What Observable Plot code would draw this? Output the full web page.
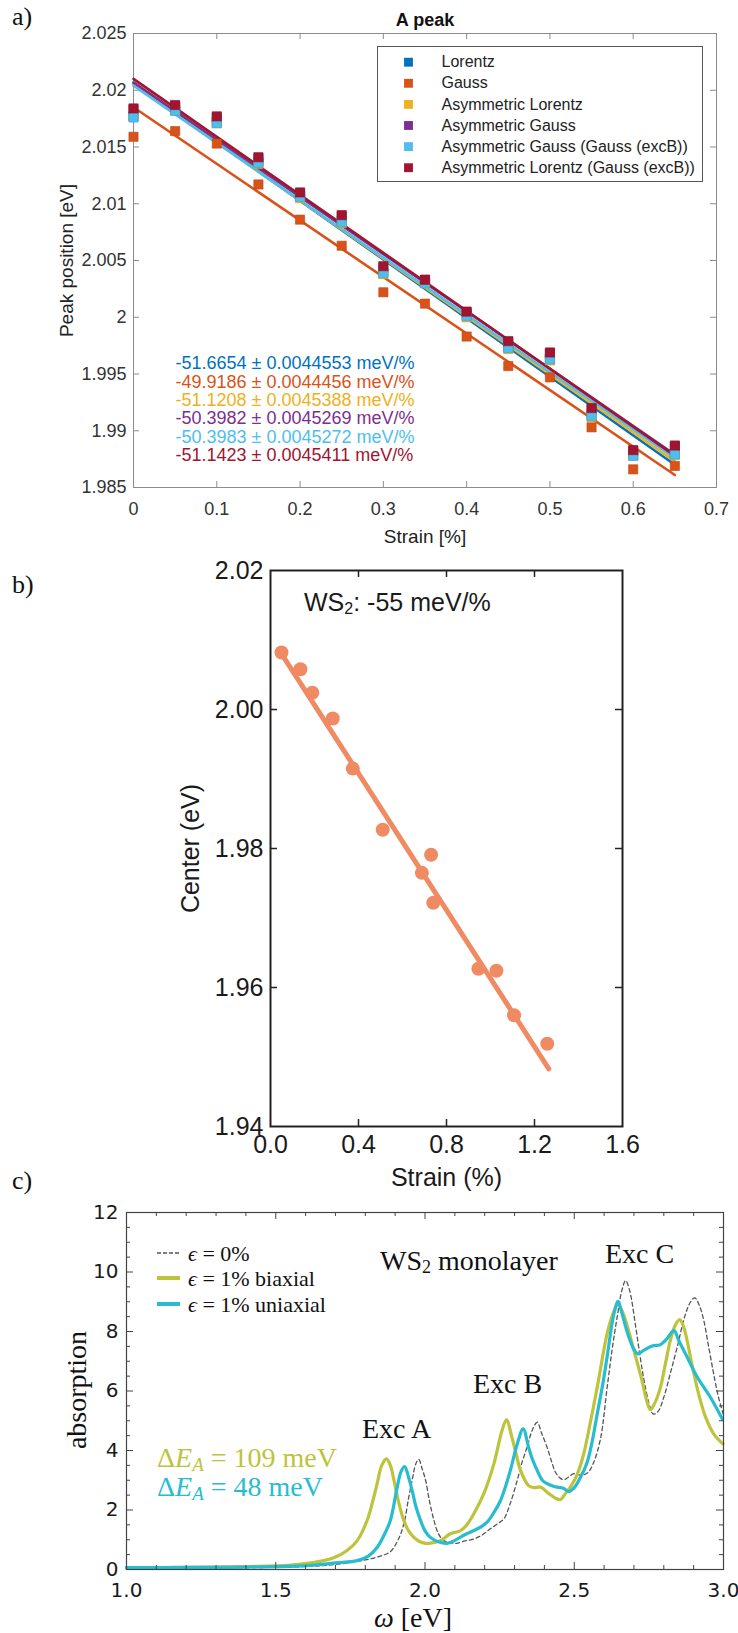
<!DOCTYPE html>
<html><head><meta charset="utf-8">
<script src="https://cdn.jsdelivr.net/npm/d3@7"></script>
<script src="https://cdn.jsdelivr.net/npm/@observablehq/plot@0.6"></script>
<style>
body{margin:0;background:#fff;}
#root{position:relative;width:738px;height:1633px;overflow:hidden;background:#fff;}
.plabel{position:absolute;left:12px;font-family:"Liberation Serif",serif;font-size:26px;line-height:30px;color:#111;}
</style></head><body><div id="root"></div>
<script>
// ================= DATA =================
// ---- panel a ----
const strainA = [0, 0.05, 0.1, 0.15, 0.2, 0.25, 0.3, 0.35, 0.4, 0.45, 0.5, 0.55, 0.6, 0.65];
const seriesNamesA = ["Lorentz", "Gauss", "Asymmetric Lorentz", "Asymmetric Gauss", "Asymmetric Gauss (Gauss (excB))", "Asymmetric Lorentz (Gauss (excB))"];
const seriesColorsA = ["#0072BD", "#D95319", "#EDB120", "#7E2F8E", "#4DBEEE", "#A2142F"];
const lorentzA   = [2.0177, 2.0183, 2.0172, 2.0137, 2.0107, 2.0085, 2.0040, 2.0031, 2.0002, 1.9974, 1.9963, 1.9914, 1.9879, 1.9880];
const gaussA     = [2.0159, 2.0164, 2.0153, 2.0117, 2.0086, 2.0063, 2.0022, 2.0012, 1.9983, 1.9957, 1.9947, 1.9903, 1.9866, 1.9869];
const asymLorA   = [2.0177, 2.0182, 2.0171, 2.0135, 2.0105, 2.0083, 2.0038, 2.0030, 2.0000, 1.9972, 1.9962, 1.9912, 1.9878, 1.9879];
const asymGauA   = [2.0183, 2.0186, 2.0176, 2.0140, 2.0109, 2.0089, 2.0044, 2.0033, 2.0004, 1.9978, 1.9968, 1.9919, 1.9882, 1.9886];
const asymGauBA  = [2.0176, 2.0182, 2.0171, 2.0136, 2.0106, 2.0084, 2.0039, 2.0030, 2.0001, 1.9973, 1.9963, 1.9913, 1.9878, 1.9879];
const asymLorBA  = [2.0184, 2.0187, 2.0177, 2.0141, 2.0110, 2.0090, 2.0045, 2.0033, 2.0005, 1.9979, 1.9969, 1.9920, 1.9883, 1.9887];
const valuesA = [lorentzA, gaussA, asymLorA, asymGauA, asymGauBA, asymLorBA];
const fitXA = [0, 0.65];
const fitStartA = [2.0206, 2.0185, 2.0205, 2.0207, 2.0204, 2.0210];
const fitEndA   = [1.9870, 1.9861, 1.9873, 1.9879, 1.9876, 1.9878];
const slopeLabelsA = ["-51.6654 ± 0.0044553 meV/%", "-49.9186 ± 0.0044456 meV/%", "-51.1208 ± 0.0045388 meV/%", "-50.3982 ± 0.0045269 meV/%", "-50.3983 ± 0.0045272 meV/%", "-51.1423 ± 0.0045411 meV/%"];
const xTicksA = [0, 0.1, 0.2, 0.3, 0.4, 0.5, 0.6, 0.7];
const yTicksA = [1.985, 1.99, 1.995, 2, 2.005, 2.01, 2.015, 2.02, 2.025];

// ---- panel b ----
const strainB = [0.05, 0.136, 0.19, 0.283, 0.374, 0.51, 0.688, 0.73, 0.74, 0.945, 1.027, 1.107, 1.258];
const centerB = [2.0082, 2.0058, 2.0024, 1.9987, 1.9915, 1.9827, 1.9765, 1.9791, 1.9722, 1.9627, 1.9624, 1.9560, 1.9519];
const fitStrainB = [0.04, 1.265];
const fitCenterB = [2.0085, 1.9483];
const xTicksB = [0, 0.4, 0.8, 1.2, 1.6];
const yTicksB = [1.94, 1.96, 1.98, 2.00, 2.02];

// ---- panel c ----
const omegaEps0 = [1.0,1.2,1.4,1.6,1.7,1.8,1.85,1.884,1.91,1.929,1.945,1.957,1.969,1.979,1.99,2.002,2.015,2.03,2.045,2.063,2.085,2.105,2.13,2.164,2.19,2.219,2.245,2.264,2.285,2.309,2.325,2.342,2.36,2.376,2.39,2.409,2.425,2.437,2.452,2.465,2.48,2.499,2.521,2.545,2.565,2.588,2.61,2.627,2.644,2.66,2.672,2.685,2.706,2.72,2.734,2.75,2.764,2.78,2.8,2.822,2.845,2.87,2.89,2.904,2.92,2.934,2.95,2.967,2.983,3.0];
const absEps0   = [0.03,0.04,0.06,0.1,0.17,0.32,0.45,0.6,1.0,1.53,2.4,3.0,3.55,3.7,3.4,3.0,2.3,1.65,1.2,0.97,0.9,0.88,0.95,1.03,1.15,1.37,1.55,1.7,2.2,3.0,3.6,4.11,4.7,4.95,4.6,4.11,3.6,3.27,3.08,3.02,3.1,3.22,3.17,3.25,3.6,4.4,6.1,7.4,8.5,9.4,9.71,9.4,8.15,7.2,6.35,5.6,5.23,5.3,5.79,6.6,7.48,8.5,9.0,9.13,8.85,8.37,7.5,6.58,5.8,5.2];
const omegaBiax = [1.0,1.2,1.4,1.55,1.661,1.7,1.739,1.773,1.806,1.825,1.84,1.855,1.871,1.884,1.896,1.912,1.929,1.945,1.963,1.98,2.002,2.025,2.052,2.085,2.119,2.14,2.164,2.197,2.231,2.258,2.273,2.291,2.305,2.32,2.347,2.365,2.387,2.415,2.437,2.454,2.47,2.487,2.51,2.532,2.555,2.577,2.61,2.63,2.645,2.66,2.68,2.7,2.727,2.742,2.755,2.77,2.789,2.805,2.822,2.838,2.853,2.865,2.878,2.892,2.906,2.922,2.94,2.967,2.998];
const absBiax   = [0.06,0.07,0.1,0.15,0.3,0.42,0.64,0.97,1.65,2.3,2.9,3.5,3.72,3.5,3.0,2.25,1.65,1.3,1.08,0.95,0.88,0.9,0.97,1.2,1.31,1.5,1.88,2.55,3.56,4.67,5.03,4.45,3.9,3.33,2.82,2.75,2.77,2.55,2.4,2.35,2.55,2.77,3.2,3.9,5.0,6.13,7.92,8.6,8.9,8.7,8.1,7.36,6.35,5.7,5.37,5.6,6.13,6.9,7.7,8.2,8.4,8.2,7.7,7.0,6.35,5.7,5.12,4.56,4.22];
const omegaUniax = [1.0,1.2,1.4,1.6,1.7,1.773,1.81,1.84,1.865,1.884,1.907,1.92,1.932,1.945,1.957,1.97,1.985,2.0,2.018,2.045,2.074,2.095,2.119,2.14,2.164,2.19,2.208,2.23,2.253,2.27,2.286,2.309,2.329,2.347,2.36,2.376,2.395,2.43,2.465,2.482,2.5,2.521,2.543,2.56,2.577,2.595,2.61,2.633,2.647,2.66,2.68,2.7,2.713,2.73,2.761,2.789,2.81,2.834,2.85,2.878,2.912,2.956,2.996];
const absUniax   = [0.06,0.07,0.08,0.13,0.22,0.3,0.45,0.75,1.2,1.65,2.77,3.3,3.46,3.1,2.65,2.1,1.65,1.3,1.08,0.93,0.88,0.95,1.09,1.2,1.31,1.45,1.59,1.9,2.32,2.8,3.33,4.22,4.73,4.11,3.7,3.33,2.98,2.8,2.72,2.62,2.75,3.1,3.6,4.3,5.23,6.2,7.14,8.6,9.01,8.6,7.9,7.4,7.25,7.35,7.51,7.56,7.75,8.03,7.7,7.14,6.47,5.79,5.06];
const xMajorC = [1.0, 1.5, 2.0, 2.5, 3.0];
const xMinorC = [1.1,1.2,1.3,1.4,1.6,1.7,1.8,1.9,2.1,2.2,2.3,2.4,2.6,2.7,2.8,2.9];
const yMajorC = [0, 2, 4, 6, 8, 10, 12];
const yMinorC = [0.5,1,1.5,2.5,3,3.5,4.5,5,5.5,6.5,7,7.5,8.5,9,9.5,10.5,11,11.5];
const colorEps0 = "#555555", colorBiax = "#bec33c", colorUniax = "#27bccf";

// ================= HELPERS =================
const root = document.getElementById("root");
function place(svg, top) {
  svg.style.position = "absolute"; svg.style.left = "0px"; svg.style.top = top + "px";
  root.appendChild(svg);
}
function addRich(svg, x, y, parts, o) {
  const t = d3.select(svg).append("text").attr("x", x).attr("y", y)
    .attr("font-family", o.family).attr("font-size", o.size).attr("fill", o.fill || "#111")
    .attr("dominant-baseline", "central").attr("text-anchor", o.anchor || "start");
  if (o.rotate) t.attr("transform", `rotate(${o.rotate},${x},${y})`);
  for (const p of parts) {
    const s = t.append("tspan").text(p.t);
    if (p.italic) s.attr("font-style", "italic");
    if (p.size) s.attr("font-size", p.size);
    if (p.dy) s.attr("dy", p.dy);
  }
}
function plabel(txt, top) {
  const d = document.createElement("div"); d.className = "plabel"; d.style.top = top + "px"; d.textContent = txt; root.appendChild(d);
}

// ================= PANEL A =================
{
  const W = 738, H = 548, ml = 133, mr = 22, mt = 33, mb = 61;
  const fw = W - ml - mr, fh = H - mt - mb, tl = 6, gc = "#8c8c8c";
  const pts = [], fits = [];
  valuesA.forEach((vals, i) => vals.forEach((v, j) => pts.push({s: i, x: strainA[j], y: v})));
  fitStartA.forEach((v, i) => { fits.push({s: i, x: fitXA[0], y: v}); fits.push({s: i, x: fitXA[1], y: fitEndA[i]}); });
  const marks = [
    Plot.frame({stroke: gc}),
    Plot.tickX(xTicksA.slice(1, -1), {insetTop: fh - tl, stroke: gc}),
    Plot.tickX(xTicksA.slice(1, -1), {insetBottom: fh - tl, stroke: gc}),
    Plot.tickY(yTicksA.slice(1, -1), {insetRight: fw - tl, stroke: gc}),
    Plot.tickY(yTicksA.slice(1, -1), {insetLeft: fw - tl, stroke: gc}),
    Plot.axisX(xTicksA, {tickSize: 0, tickPadding: 15, tickFormat: d => String(d), fontSize: 18, label: null}),
    Plot.axisY(yTicksA, {tickSize: 0, tickPadding: 7, tickFormat: d => String(d), fontSize: 18, label: null}),
  ];
  seriesNamesA.forEach((n, i) => {
    marks.push(Plot.line(fits.filter(d => d.s === i), {x: "x", y: "y", stroke: seriesColorsA[i], strokeWidth: 2.6}));
  });
  seriesNamesA.forEach((n, i) => {
    marks.push(Plot.dot(pts.filter(d => d.s === i), {x: "x", y: "y", symbol: "square", r: 5.2, fill: seriesColorsA[i], stroke: d3.color(seriesColorsA[i]).darker(0.4).formatHex(), strokeWidth: 0.6}));
  });
  marks.push(Plot.frame({insetLeft: 244, insetRight: 14, insetTop: 13, insetBottom: 306, fill: "white", stroke: "#555"}));
  seriesNamesA.forEach((n, i) => {
    const dy = 28.7 + i * 21.1;
    marks.push(Plot.dot([n], {frameAnchor: "top-left", dx: 275, dy, symbol: "square", r: 5, fill: seriesColorsA[i]}));
    marks.push(Plot.text([n], {frameAnchor: "top-left", dx: 308, dy, text: d => d, textAnchor: "start", lineAnchor: "middle", fontSize: 16, fill: "#222"}));
  });
  slopeLabelsA.forEach((t, i) => {
    marks.push(Plot.text([t], {frameAnchor: "top-left", dx: 42, dy: 330 + i * 18.4, text: d => d, textAnchor: "start", lineAnchor: "middle", fontSize: 18, fill: seriesColorsA[i]}));
  });
  marks.push(Plot.text(["A peak"], {frameAnchor: "top", dy: -13, lineAnchor: "middle", textAnchor: "middle", fontSize: 18, fontWeight: "bold", fill: "#111"}));
  marks.push(Plot.text(["Peak position [eV]"], {frameAnchor: "left", dx: -67, rotate: -90, textAnchor: "middle", lineAnchor: "middle", fontSize: 19, fill: "#222"}));
  marks.push(Plot.text(["Strain [%]"], {frameAnchor: "bottom", dy: 49, textAnchor: "middle", lineAnchor: "middle", fontSize: 19, fill: "#222"}));
  const svg = Plot.plot({
    width: W, height: H, marginLeft: ml, marginRight: mr, marginTop: mt, marginBottom: mb,
    x: {domain: [0, 0.7]}, y: {domain: [1.985, 2.025]},
    style: {fontFamily: "'Liberation Sans', Arial, sans-serif", color: "#333", background: "transparent", overflow: "visible"},
    marks
  });
  place(svg, 0);
}

// ================= PANEL B =================
{
  const W = 738, H = 650, ml = 270, mr = 116, mt = 22, mb = 72, top = 548;
  const fw = W - ml - mr, fh = H - mt - mb, tl = 7, fc = "#222";
  const orange = "#ef8a62";
  const pts = strainB.map((x, i) => ({x, y: centerB[i]}));
  const fit = fitStrainB.map((x, i) => ({x, y: fitCenterB[i]}));
  const svg = Plot.plot({
    width: W, height: H, marginLeft: ml, marginRight: mr, marginTop: mt, marginBottom: mb,
    x: {domain: [0, 1.6]}, y: {domain: [1.94, 2.02]},
    style: {fontFamily: "'Liberation Sans', Arial, sans-serif", color: "#1a1a1a", background: "transparent", overflow: "visible"},
    marks: [
      Plot.line(fit, {x: "x", y: "y", stroke: orange, strokeWidth: 5}),
      Plot.dot(pts, {x: "x", y: "y", r: 7, fill: orange}),
      Plot.frame({stroke: fc, strokeWidth: 2}),
      Plot.tickX(xTicksB.slice(1, -1), {insetTop: fh - tl, stroke: fc, strokeWidth: 1.5}),
      Plot.tickX(xTicksB.slice(1, -1), {insetBottom: fh - tl, stroke: fc, strokeWidth: 1.5}),
      Plot.tickY(yTicksB.slice(1, -1), {insetRight: fw - tl, stroke: fc, strokeWidth: 1.5}),
      Plot.tickY(yTicksB.slice(1, -1), {insetLeft: fw - tl, stroke: fc, strokeWidth: 1.5}),
      Plot.axisX(xTicksB, {tickSize: 0, tickPadding: 9, tickFormat: d => d.toFixed(1), fontSize: 25, label: null}),
      Plot.axisY(yTicksB, {tickSize: 0, tickPadding: 7, tickFormat: d => d.toFixed(2), fontSize: 25, label: null}),
      Plot.text(["Center (eV)"], {frameAnchor: "left", dx: -80, rotate: -90, textAnchor: "middle", lineAnchor: "middle", fontSize: 25, fill: "#1a1a1a"}),
      Plot.text(["Strain (%)"], {frameAnchor: "bottom", dy: 51, textAnchor: "middle", lineAnchor: "middle", fontSize: 25, fill: "#1a1a1a"})
    ]
  });
  addRich(svg, 304, 602 - top, [{t: "WS"}, {t: "2", size: 16, dy: 6}, {t: ": -55 meV/%", dy: -6}],
    {family: "'Liberation Sans', Arial, sans-serif", size: 25, fill: "#1a1a1a"});
  place(svg, top);
}

// ================= PANEL C =================
{
  const W = 738, H = 435, ml = 126, mr = 15, mt = 14, mb = 64, top = 1198;
  const fw = W - ml - mr, fh = H - mt - mb, gc = "#444", maj = 7, mnr = 4;
  const mk = (xs, ys) => xs.map((x, i) => ({x, y: ys[i]}));
  const serif = "'Liberation Serif', 'DejaVu Serif', serif";
  const svg = Plot.plot({
    width: W, height: H, marginLeft: ml, marginRight: mr, marginTop: mt, marginBottom: mb,
    x: {domain: [1, 3]}, y: {domain: [0, 12]},
    style: {fontFamily: "'DejaVu Sans', sans-serif", color: "#1a1a1a", background: "transparent", overflow: "visible"},
    marks: [
      Plot.line(mk(omegaEps0, absEps0), {x: "x", y: "y", stroke: colorEps0, strokeWidth: 1.3, strokeDasharray: "4,3", curve: "catmull-rom"}),
      Plot.line(mk(omegaBiax, absBiax), {x: "x", y: "y", stroke: colorBiax, strokeWidth: 3.2, curve: "catmull-rom"}),
      Plot.line(mk(omegaUniax, absUniax), {x: "x", y: "y", stroke: colorUniax, strokeWidth: 3.2, curve: "catmull-rom"}),
      Plot.frame({stroke: gc, strokeWidth: 1.2}),
      Plot.tickX(xMajorC.slice(1, -1), {insetTop: fh - maj, stroke: gc}),
      Plot.tickX(xMajorC.slice(1, -1), {insetBottom: fh - maj, stroke: gc}),
      Plot.tickX(xMinorC, {insetTop: fh - mnr, stroke: gc}),
      Plot.tickX(xMinorC, {insetBottom: fh - mnr, stroke: gc}),
      Plot.tickY(yMajorC.slice(1, -1), {insetRight: fw - maj, stroke: gc}),
      Plot.tickY(yMajorC.slice(1, -1), {insetLeft: fw - maj, stroke: gc}),
      Plot.tickY(yMinorC, {insetRight: fw - mnr, stroke: gc}),
      Plot.tickY(yMinorC, {insetLeft: fw - mnr, stroke: gc}),
      Plot.axisX(xMajorC, {tickSize: 0, tickPadding: 13, tickFormat: d => d.toFixed(1), fontSize: 20, label: null}),
      Plot.axisY(yMajorC, {tickSize: 0, tickPadding: 8, tickFormat: d => String(d), fontSize: 20, label: null})
    ]
  });
  const s = d3.select(svg);
  // legend keys
  s.append("line").attr("x1", 157).attr("x2", 180).attr("y1", 55).attr("y2", 55).attr("stroke", colorEps0).attr("stroke-width", 1.3).attr("stroke-dasharray", "4,2");
  s.append("line").attr("x1", 157).attr("x2", 180).attr("y1", 80).attr("y2", 80).attr("stroke", colorBiax).attr("stroke-width", 4);
  s.append("line").attr("x1", 157).attr("x2", 180).attr("y1", 106).attr("y2", 106).attr("stroke", colorUniax).attr("stroke-width", 4);
  addRich(svg, 188, 55, [{t: "ϵ", italic: true}, {t: " = 0%"}], {family: serif, size: 22});
  addRich(svg, 188, 80, [{t: "ϵ", italic: true}, {t: " = 1% biaxial"}], {family: serif, size: 22});
  addRich(svg, 188, 106, [{t: "ϵ", italic: true}, {t: " = 1% uniaxial"}], {family: serif, size: 22});
  addRich(svg, 380, 62, [{t: "WS"}, {t: "2", size: 18, dy: 7}, {t: " monolayer", dy: -7}], {family: serif, size: 28});
  addRich(svg, 605, 55, [{t: "Exc C"}], {family: serif, size: 28});
  addRich(svg, 473, 185, [{t: "Exc B"}], {family: serif, size: 28});
  addRich(svg, 362, 230, [{t: "Exc A"}], {family: serif, size: 28});
  addRich(svg, 157, 259, [{t: "Δ"}, {t: "E", italic: true}, {t: "A", italic: true, size: 19, dy: 7}, {t: " = 109 meV", dy: -7}], {family: serif, size: 28, fill: colorBiax});
  addRich(svg, 157, 288, [{t: "Δ"}, {t: "E", italic: true}, {t: "A", italic: true, size: 19, dy: 7}, {t: " = 48 meV", dy: -7}], {family: serif, size: 28, fill: colorUniax});
  addRich(svg, 76, 192, [{t: "absorption"}], {family: serif, size: 28, anchor: "middle", rotate: -90});
  addRich(svg, 413, 419, [{t: "ω", italic: true}, {t: " [eV]"}], {family: serif, size: 28, anchor: "middle"});
  place(svg, top);
}

plabel("a)", 2);
plabel("b)", 570);
plabel("c)", 1166);
</script></body></html>
